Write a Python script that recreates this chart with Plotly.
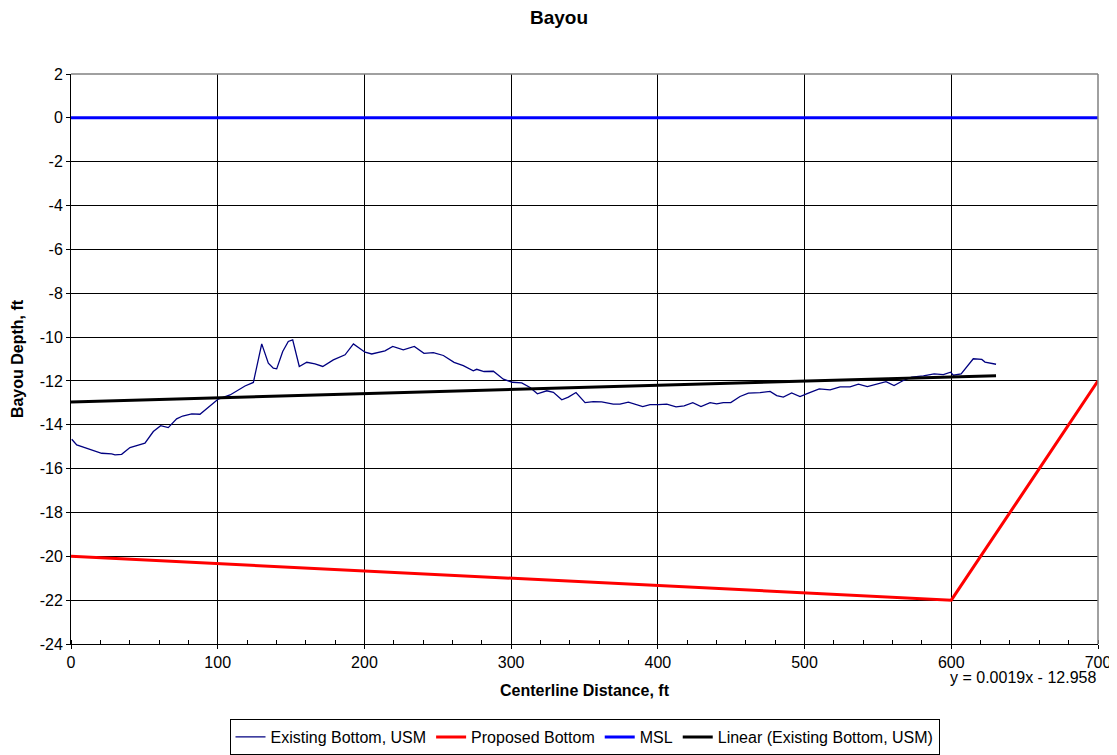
import plotly.graph_objects as go

# Existing bottom survey (USM)
exist_x = [0.5, 3.9, 8.4, 15.2, 20.9, 27.7, 30, 34.5, 40.2, 45.9, 50.4, 56.1, 61.1, 66.3, 72, 76.1,
           82.3, 87.9, 94.7, 100.4, 108.4, 114, 118.6, 124.3, 130, 134.5, 137.9, 140.2, 144.3, 148.1,
           151.1, 155.6, 160.7, 166.3, 171.6, 178.8, 186.8, 192.5, 200.4, 205, 209.5, 214, 219.3,
           226.5, 234, 240.6, 247, 253.8, 261.1, 267.4, 274.2, 276.5, 281.5, 287.9, 294.7, 300.8,
           307.2, 312.9, 317.9, 324.3, 328.8, 334.5, 339, 344.2, 350.4, 356, 361.7, 369.6, 374.2,
           379.9, 389.7, 394.7, 400.3, 406.1, 412.4, 417.9, 423.8, 429.4, 435.6, 440.1, 444.6,
           449.7, 456, 461.7, 469.7, 476.5, 481, 485.5, 491.2, 496.9, 502.6, 510, 517.4, 524.2,
           531, 536.7, 542.8, 549.2, 555.5, 561, 567.3, 573, 581, 588.3, 594.6, 599.5, 601.4,
           606.7, 615, 620.8, 623, 630.5]
exist_y = [-14.66, -14.92, -15.02, -15.18, -15.3, -15.33, -15.37, -15.35, -15.04, -14.93, -14.84,
           -14.31, -14.04, -14.13, -13.73, -13.6, -13.5, -13.52, -13.14, -12.83, -12.64, -12.41,
           -12.23, -12.07, -10.31, -11.19, -11.42, -11.45, -10.66, -10.2, -10.13, -11.34, -11.15,
           -11.22, -11.34, -11.04, -10.81, -10.31, -10.69, -10.77, -10.69, -10.63, -10.43, -10.58,
           -10.43, -10.74, -10.71, -10.84, -11.15, -11.3, -11.54, -11.47, -11.57, -11.56, -11.92,
           -12.06, -12.09, -12.3, -12.59, -12.45, -12.52, -12.86, -12.74, -12.53, -12.99, -12.94,
           -12.96, -13.06, -13.06, -12.97, -13.17, -13.08, -13.08, -13.06, -13.18, -13.14, -12.99,
           -13.17, -12.99, -13.05, -12.99, -12.99, -12.71, -12.56, -12.53, -12.48, -12.67, -12.74,
           -12.55, -12.71, -12.56, -12.36, -12.41, -12.27, -12.27, -12.15, -12.26, -12.13, -12.03,
           -12.21, -11.98, -11.83, -11.77, -11.68, -11.71, -11.6, -11.74, -11.68, -10.99, -11.02,
           -11.14, -11.24]

# Proposed bottom
prop_x = [0, 600, 700]
prop_y = [-20, -22, -12]

# Mean sea level
msl_x = [0, 700]
msl_y = [0, 0]

# Linear trend of existing bottom (from chart label)
trend_slope = 0.0019
trend_intercept = -12.958
trend_x = [0, exist_x[-1]]
trend_y = [trend_slope * v + trend_intercept for v in trend_x]

x_ticks = [0, 100, 200, 300, 400, 500, 600, 700]
y_ticks = list(range(-24, 3, 2))
y_tick_labels = [str(v) for v in y_ticks]

FONT = "Liberation Sans, Arial, sans-serif"

fig = go.Figure()
fig.add_trace(go.Scatter(x=exist_x, y=exist_y, mode="lines", name="Existing Bottom, USM",
                         line=dict(color="#000080", width=1.3)))
fig.add_trace(go.Scatter(x=prop_x, y=prop_y, mode="lines", name="Proposed Bottom",
                         line=dict(color="#FF0000", width=3)))
fig.add_trace(go.Scatter(x=msl_x, y=msl_y, mode="lines", name="MSL",
                         line=dict(color="#0000FF", width=3)))
fig.add_trace(go.Scatter(x=trend_x, y=trend_y, mode="lines", name="Linear (Existing Bottom, USM)",
                         line=dict(color="#000000", width=3)))

# page body has an 8px margin; figure size/margins compensate for it
fig.update_layout(
    width=1109, height=747,
    margin=dict(l=63, r=19, t=66, b=111, autoexpand=False),
    paper_bgcolor="white", plot_bgcolor="white",
    font=dict(family=FONT, size=16, color="black"),
    title=dict(text="<b>Bayou</b>", x=551 / 1109, xanchor="center",
               y=1 - 9 / 747, yanchor="middle", font=dict(size=19, family=FONT)),
    showlegend=True,
    legend=dict(orientation="h", x=0.5, xanchor="center", y=-93 / 570, yanchor="middle",
                bordercolor="black", borderwidth=1, font=dict(size=16, family=FONT),
                tracegroupgap=0),
    annotations=[dict(text="y = 0.0019x - 12.958", xref="paper", yref="paper", x=1.0, y=-33 / 570,
                      xanchor="right", yanchor="middle", showarrow=False,
                      font=dict(size=16, family=FONT))],
)
fig.update_xaxes(
    range=[0, 700], tickvals=x_ticks, ticks="outside", ticklen=4, tickcolor="black",
    showline=True, linecolor="black", linewidth=1, mirror=False, automargin=True,
    showgrid=True, gridcolor="black", gridwidth=1, zeroline=False,
    minor=dict(dtick=20, ticks="inside", ticklen=4, tickcolor="black", showgrid=False),
    title=dict(text="<b>Centerline Distance, ft</b>", font=dict(size=16, family=FONT), standoff=14),
)
fig.update_yaxes(
    range=[-24, 2], tickvals=y_ticks, ticktext=y_tick_labels, ticks="outside", ticklen=4,
    tickcolor="black", showline=True, linecolor="black", linewidth=1, automargin=False,
    showgrid=True, gridcolor="black", gridwidth=1, zeroline=False,
    title=dict(text="<b>Bayou Depth, ft</b>", font=dict(size=16, family=FONT), standoff=12),
)
# top/right gray frame lines
fig.add_shape(type="line", xref="paper", yref="paper", x0=0, x1=1, y0=1, y1=1,
              line=dict(color="#808080", width=1.5))
fig.add_shape(type="line", xref="paper", yref="paper", x0=1, x1=1, y0=0, y1=1,
              line=dict(color="#808080", width=1.5))

fig.write_html("out.html")
